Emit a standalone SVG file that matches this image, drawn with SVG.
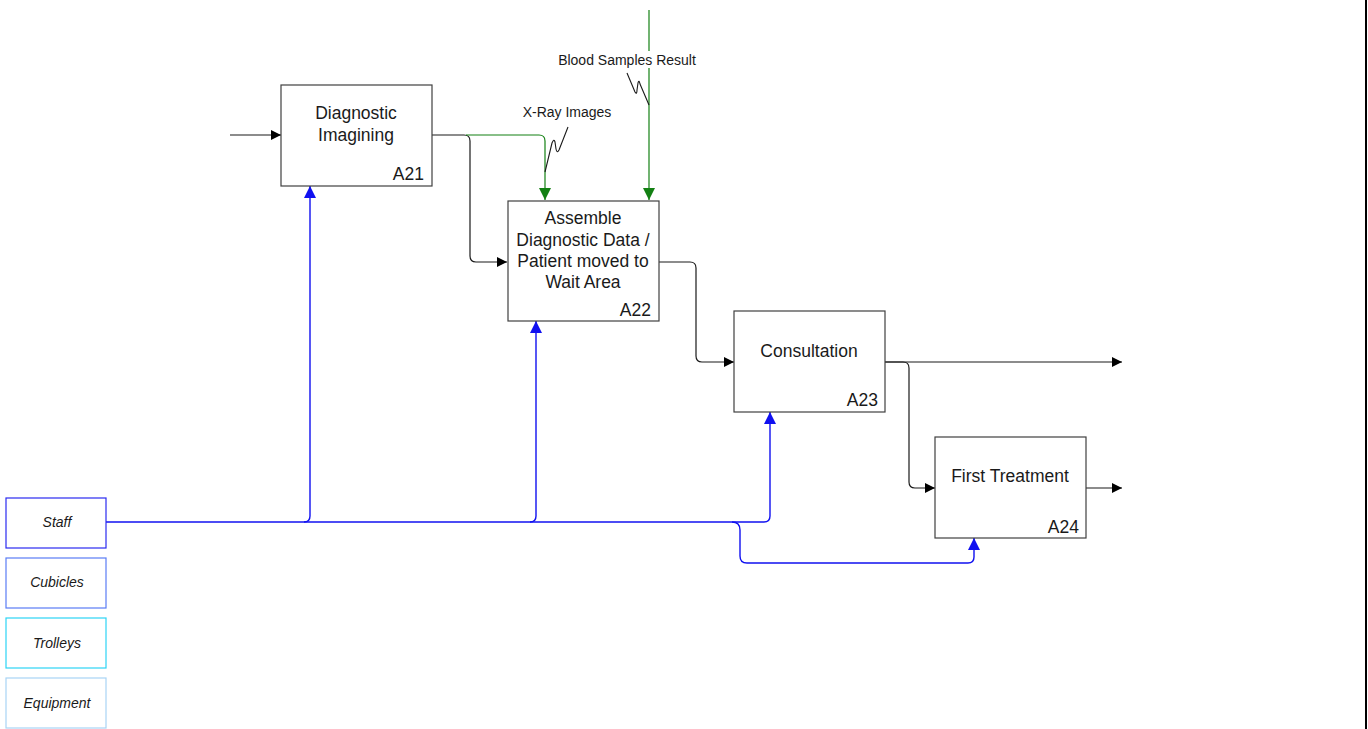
<svg xmlns="http://www.w3.org/2000/svg" width="1368" height="729" viewBox="0 0 1368 729">
  <style>
    .box { fill: #ffffff; stroke: #404040; stroke-width: 1.2; }
    .title { font-family: "Liberation Sans", Arial, sans-serif; font-size: 17.5px; fill: #1a1a1a; text-anchor: middle; }
    .num { font-family: "Liberation Sans", Arial, sans-serif; font-size: 17.5px; fill: #1a1a1a; text-anchor: end; }
    .lbl { font-family: "Liberation Sans", Arial, sans-serif; font-size: 14px; fill: #1a1a1a; text-anchor: middle; }
    .res { font-family: "Liberation Sans", Arial, sans-serif; font-size: 14px; font-style: italic; fill: #1a1a1a; text-anchor: middle; }
    .blk { fill: none; stroke: #1a1a1a; stroke-width: 1.2; }
    .grn { fill: none; stroke: #138013; stroke-width: 1.2; }
    .blu { fill: none; stroke: #1010f0; stroke-width: 1.4; }
    .squig { fill: none; stroke: #1a1a1a; stroke-width: 1.1; stroke-linejoin: round; }
  </style>
  <defs>
    <marker id="ah-black" markerWidth="10" markerHeight="10" refX="10" refY="5" orient="auto" markerUnits="userSpaceOnUse">
      <path d="M0,0 L10,5 L0,10 Z" fill="#000000"/>
    </marker>
    <marker id="ah-green" markerWidth="12" markerHeight="12" refX="12" refY="6" orient="auto" markerUnits="userSpaceOnUse">
      <path d="M0,0 L12,6 L0,12 Z" fill="#138013"/>
    </marker>
    <marker id="ah-blue" markerWidth="12" markerHeight="12" refX="12" refY="6" orient="auto" markerUnits="userSpaceOnUse">
      <path d="M0,0 L12,6 L0,12 Z" fill="#1010f0"/>
    </marker>
  </defs>

  <rect width="1368" height="729" fill="#ffffff"/>
  <!-- page border on the right -->
  <line x1="1366" y1="0" x2="1366" y2="729" stroke="#000000" stroke-width="2"/>

  <!-- connectors -->
  <g id="connectors">
    <!-- input to A21 -->
    <path class="blk" d="M230,135 H281" marker-end="url(#ah-black)"/>
    <!-- A21 output to A22 input -->
    <path class="blk" d="M432,135 H464 Q470,135 470,141 V256 Q470,262 476,262 H507" marker-end="url(#ah-black)"/>
    <!-- X-Ray Images control into A22 -->
    <path class="grn" d="M466,135 H539 Q545,135 545,141 V200" marker-end="url(#ah-green)"/>
    <!-- Blood Samples Result control into A22 -->
    <path class="grn" d="M649,10 V200" marker-end="url(#ah-green)"/>
    <!-- A22 output to A23 input -->
    <path class="blk" d="M659,262 H690 Q696,262 696,268 V356 Q696,362 702,362 H734" marker-end="url(#ah-black)"/>
    <!-- A23 outputs -->
    <path class="blk" d="M885,362 H1122" marker-end="url(#ah-black)"/>
    <path class="blk" d="M885,362 H903 Q909,362 909,368 V482 Q909,488 915,488 H935" marker-end="url(#ah-black)"/>
    <!-- A24 output -->
    <path class="blk" d="M1086,488 H1122" marker-end="url(#ah-black)"/>

    <!-- Staff mechanism -->
    <path class="blu" stroke-width="2" d="M106,522 H734"/>
    <path class="blu" d="M304,522 Q310,522 310,516 V186" marker-end="url(#ah-blue)"/>
    <path class="blu" d="M530,522 Q536,522 536,516 V321" marker-end="url(#ah-blue)"/>
    <path class="blu" d="M734,522 H764 Q770,522 770,516 V412" marker-end="url(#ah-blue)"/>
    <path class="blu" d="M732,522 Q740,522 740,530 V556 Q740,563 747,563 H968 Q974,563 974,557 V538" marker-end="url(#ah-blue)"/>

    <!-- label squiggles -->
    <path class="squig" d="M568,127 L559,150 Q557,154 556,149 L555,142 Q554,138 552,143 L545,172"/>
    <path class="squig" d="M627,73 L635,92 Q637,95 637,90 L638,83 Q639,79 640,84 L649,105"/>
  </g>

  <!-- arrow labels -->
  <g id="arrow-labels">
    <rect x="553" y="51" width="148" height="17" fill="#ffffff"/>
    <text class="lbl" x="627" y="65">Blood Samples Result</text>
    <text class="lbl" x="567" y="117">X-Ray Images</text>
  </g>

  <!-- activities -->
  <g id="A21">
    <rect class="box" x="281" y="85" width="151" height="101"/>
    <text class="title" x="356" y="119">Diagnostic</text>
    <text class="title" x="356" y="141">Imagining</text>
    <text class="num" x="424" y="180">A21</text>
  </g>
  <g id="A22">
    <rect class="box" x="508" y="201" width="151" height="120"/>
    <text class="title" x="583" y="224">Assemble</text>
    <text class="title" x="583" y="246">Diagnostic Data /</text>
    <text class="title" x="583" y="267">Patient moved to</text>
    <text class="title" x="583" y="288">Wait Area</text>
    <text class="num" x="651" y="316">A22</text>
  </g>
  <g id="A23">
    <rect class="box" x="734" y="311" width="151" height="101"/>
    <text class="title" x="809" y="357">Consultation</text>
    <text class="num" x="878" y="406">A23</text>
  </g>
  <g id="A24">
    <rect class="box" x="935" y="437" width="151" height="101"/>
    <text class="title" x="1010" y="482">First Treatment</text>
    <text class="num" x="1079" y="533">A24</text>
  </g>

  <!-- resources -->
  <g id="staff">
    <rect x="6" y="498" width="100" height="50" fill="#ffffff" stroke="#2a2af0" stroke-width="1.2"/>
    <text class="res" x="57" y="527">Staff</text>
  </g>
  <g id="cubicles">
    <rect x="6" y="558" width="100" height="50" fill="#ffffff" stroke="#5a7cf5" stroke-width="1.2"/>
    <text class="res" x="57" y="587">Cubicles</text>
  </g>
  <g id="trolleys">
    <rect x="6" y="618" width="100" height="50" fill="#ffffff" stroke="#2cd4f5" stroke-width="1.2"/>
    <text class="res" x="57" y="648">Trolleys</text>
  </g>
  <g id="equipment">
    <rect x="6" y="678" width="100" height="50" fill="#ffffff" stroke="#a8d4f5" stroke-width="1.2"/>
    <text class="res" x="57" y="708">Equipment</text>
  </g>
</svg>
